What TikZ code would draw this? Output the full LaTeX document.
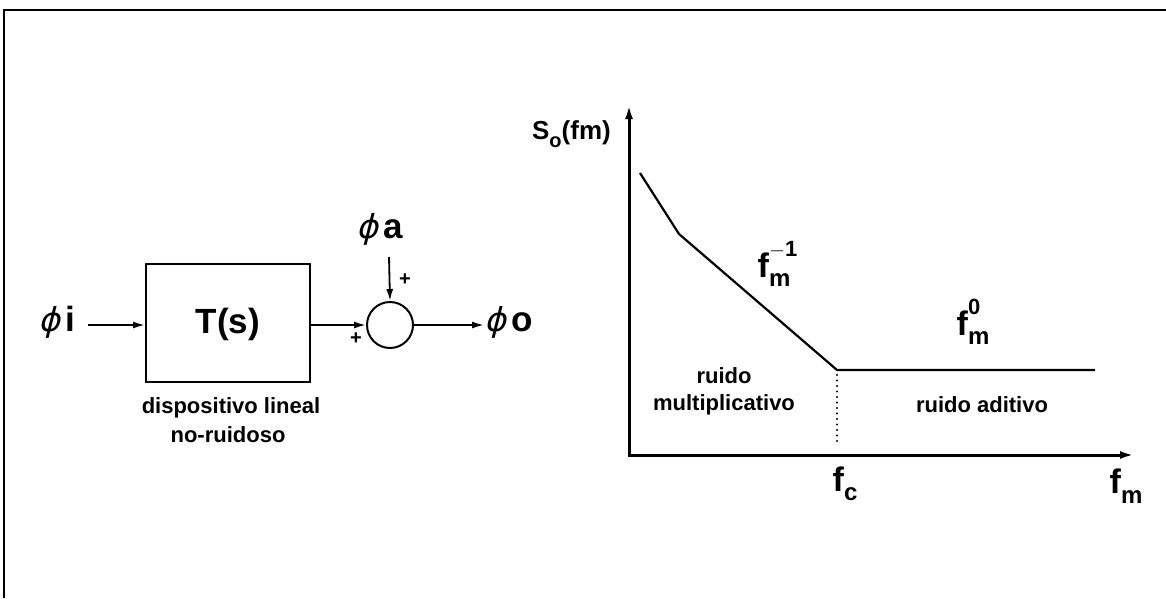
\documentclass[tikz,border=0pt]{standalone}
\usepackage{fontspec}
\setmainfont{Liberation Sans}
\newfontfamily\phif[FakeSlant=0.25]{DejaVu Sans}
\usetikzlibrary{arrows.meta}
\newcommand{\fsz}[1]{\fontsize{#1}{#1}\selectfont}
\newcommand{\ph}{{\phif\mdseries\fsz{33}ϕ}\kern6pt}
\newcommand{\fss}[2]{f\rlap{\raisebox{0.62em}{\fsz{22}#1}}\raisebox{-0.28em}{\fsz{24}#2}}
\begin{document}
\begin{tikzpicture}[x=1pt,y=-1pt,
  lab/.style={inner sep=0pt,font=\bfseries\fsz{22}},
  big/.style={inner sep=0pt,font=\bfseries\fsz{35}},
  sig/.style={line width=1.8pt,-{Latex[length=12pt,width=7pt]}},
  axis/.style={line width=3pt,-{Latex[length=14pt,width=8pt]}},
  curve/.style={line width=2.2pt,line join=miter}]
\useasboundingbox (0,0) rectangle (1166,598);
% frame
\draw[line width=2.4pt] (4,598) -- (4,10) -- (1166,10);
% block diagram
\node[big,anchor=west] (phii) at (38,322) {\ph i};
\node[draw,line width=2pt,minimum width=164pt,minimum height=118pt,inner sep=0pt] (box) at (228,323) {};
\node[big] (T) at (228,324) {T(s)};
\node[draw,circle,line width=2pt,minimum size=46pt,inner sep=0pt] (sum) at (390,325) {};
\node[big,anchor=west] (phia) at (356,229) {\ph a};
\node[big,anchor=west] (phio) at (484,322) {\ph o};
\coordinate (ain) at (389,257);
\coordinate (iin) at (88,325);
\draw[sig] (iin) -- (iin -| box.west);
\draw[sig] (box.east |- sum.west) -- (sum.west);
\draw[sig] (ain) -- (sum.north);
\draw[sig] (sum.east) -- (phio.west |- sum.east);
\node[lab,font=\bfseries\fsz{20}] (p1) at (356,339) {+};
\node[lab,font=\bfseries\fsz{20}] (p2) at (405,280) {+};
\node[lab] (d1) at (231,408) {dispositivo lineal};
\node[lab] (d2) at (228,435) {no-ruidoso};
% graph
\coordinate (O) at (629,455);
\coordinate (Ytip) at (629,105);
\coordinate (Xtip) at (1134,455);
\draw[axis] (O) ++(0,1.5) -- (Ytip);
\draw[axis] (O) ++(-1.5,0) -- (Xtip);
\coordinate (c0) at (640,173);
\coordinate (c1) at (679,234);
\coordinate (c2) at (837,370);
\coordinate (c3) at (1095,370);
\draw[curve] (c0) -- (c1) -- (c2) -- (c3);
\coordinate (dbot) at (837,445);
\draw[line width=2.4pt,line cap=round,dash pattern=on 0pt off 5.5pt] (c2) ++(0,5) -- (dbot);
\node[inner sep=0pt,anchor=east,font=\bfseries\fsz{26}] (S) at (611,134) {S\raisebox{-0.3em}{\fsz{20}o}(fm)};
\node[inner sep=0pt,font=\bfseries\fsz{34}] (fm1) at (774,264) {\fss{$-$1}{m}};
\node[inner sep=0pt,font=\bfseries\fsz{34}] (fm0) at (973,322) {\fss{0}{m}};
\node[lab] (r1) at (724,376) {ruido};
\node[lab] (r2) at (724,405) {multiplicativo};
\node[lab] (r3) at (982,405) {ruido aditivo};
\node[inner sep=0pt,font=\bfseries\fsz{34}] (fc) at (845,484) {f\raisebox{-0.28em}{\fsz{24}c}};
\node[inner sep=0pt,font=\bfseries\fsz{34}] (fmx) at (1126,486) {f\raisebox{-0.28em}{\fsz{24}m}};
\end{tikzpicture}
\end{document}
